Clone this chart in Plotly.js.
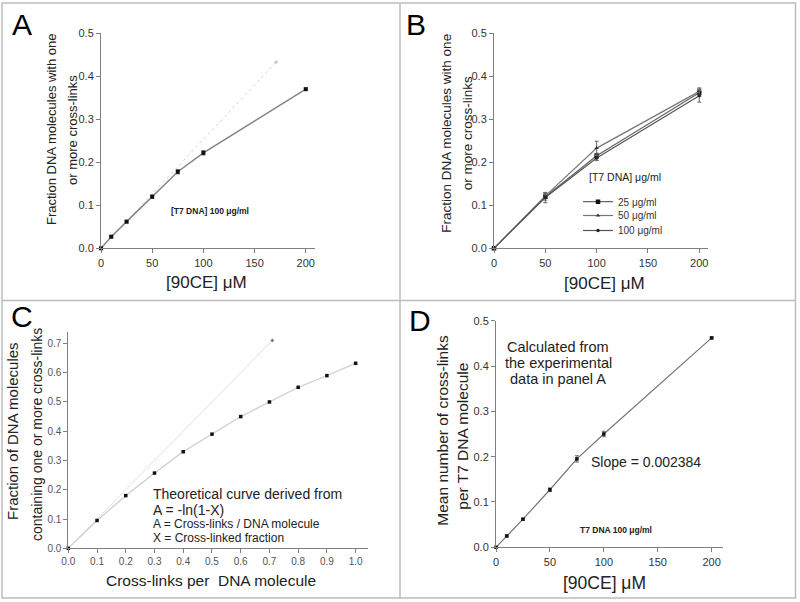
<!DOCTYPE html>
<html><head><meta charset="utf-8">
<script src="https://cdn.plot.ly/plotly-3.0.1.min.js"></script>
<style>html,body{margin:0;padding:0;background:#fff}</style>
</head><body><div id="chart" style="width:800px;height:602px"></div>
<script>
// ---- Panel A ----
const concA = [0, 10, 25, 50, 75, 100, 200];
const fracA = [0, 0.027, 0.062, 0.12, 0.178, 0.222, 0.37];
const errA = [0, 0.003, 0.003, 0.004, 0.005, 0.005, 0.003];
const theoryXA = [0, 171];
const theoryYA = [0, 0.433];

// ---- Panel B ----
const concB = [0, 50, 100, 200];
const fracB25 = [0, 0.12, 0.215, 0.362];
const errB25 = [0, 0.008, 0.006, 0.008];
const fracB50 = [0, 0.122, 0.233, 0.365];
const errB50 = [0, 0.006, 0.016, 0.008];
const fracB100 = [0, 0.118, 0.21, 0.355];
const errB100 = [0, 0.012, 0.006, 0.015];
const namesB = ['25 μg/ml', '50 μg/ml', '100 μg/ml'];

// ---- Panel C ----
const crossC = [0, 0.1, 0.2, 0.3, 0.4, 0.5, 0.6, 0.7, 0.8, 0.9, 1.0];
const fracC = [0, 0.095, 0.18, 0.257, 0.33, 0.39, 0.45, 0.5, 0.55, 0.59, 0.632];
const identXC = [0, 0.71];
const identYC = [0, 0.71];

// ---- Panel D ----
const concD = [0, 10, 25, 50, 75, 100, 200];
const meanD = [0, 0.025, 0.062, 0.127, 0.195, 0.25, 0.462];
const errD = [0, 0.002, 0.002, 0.004, 0.007, 0.006, 0.002];

const W = 800, H = 602;
const FONT = 'Liberation Sans, Arial, sans-serif';
const px = v => v / W;
const py = v => 1 - v / H;

const sq = (size) => ({symbol: 'square', size: size, color: '#111'});
const errStyle = (arr) => ({type: 'data', array: arr, visible: true, color: '#666', thickness: 1, width: 2});

const traces = [
  // A
  {x: theoryXA, y: theoryYA, xaxis: 'x', yaxis: 'y', mode: 'lines+markers', showlegend: false,
   line: {color: '#d4d4d4', width: 1, dash: 'dot'}, marker: {size: [0, 3], color: '#aaa'}, cliponaxis: false},
  {x: concA, y: fracA, error_y: errStyle(errA), xaxis: 'x', yaxis: 'y', mode: 'lines+markers', showlegend: false,
   line: {color: '#858585', width: 1.5}, marker: sq(4), cliponaxis: false},
  // B
  {x: concB, y: fracB25, error_y: errStyle(errB25), xaxis: 'x2', yaxis: 'y2', mode: 'lines+markers', name: namesB[0],
   legend: 'legend', line: {color: '#666', width: 1.2}, marker: sq(4.5), cliponaxis: false},
  {x: concB, y: fracB50, error_y: errStyle(errB50), xaxis: 'x2', yaxis: 'y2', mode: 'lines+markers', name: namesB[1],
   legend: 'legend2', line: {color: '#777', width: 1.2}, marker: {symbol: 'triangle-up', size: 4, color: '#333'}, cliponaxis: false},
  {x: concB, y: fracB100, error_y: errStyle(errB100), xaxis: 'x2', yaxis: 'y2', mode: 'lines+markers', name: namesB[2],
   legend: 'legend3', line: {color: '#555', width: 1.2}, marker: {symbol: 'circle', size: 3.5, color: '#222'}, cliponaxis: false},
  // C
  {x: identXC, y: identYC, xaxis: 'x3', yaxis: 'y3', mode: 'lines+markers', showlegend: false,
   line: {color: '#e0e0e0', width: 1}, marker: {size: [0, 3.5], color: '#222'}, cliponaxis: false},
  {x: crossC, y: fracC, xaxis: 'x3', yaxis: 'y3', mode: 'lines+markers', showlegend: false,
   line: {color: '#d4d4d4', width: 1.5}, marker: sq(3.5), cliponaxis: false},
  // D
  {x: concD, y: meanD, error_y: errStyle(errD), xaxis: 'x4', yaxis: 'y4', mode: 'lines+markers', showlegend: false,
   line: {color: '#757575', width: 1.2}, marker: sq(3.5), cliponaxis: false}
];

function ax(domain, range, extra) {
  return Object.assign({
    domain: domain, range: range, showline: true, linecolor: '#808080', linewidth: 1,
    ticks: 'outside', ticklen: 4, tickwidth: 1, tickcolor: '#808080',
    showgrid: false, zeroline: false, fixedrange: true,
    tickfont: {family: FONT, size: 11, color: '#333'}
  }, extra || {});
}

const yFmt = {dtick: 0.1, tickformat: '.1f'};
const xConc = {dtick: 50};

function ann(text, x, y, size, opts) {
  return Object.assign({
    text: text, x: px(x), y: py(y), xref: 'paper', yref: 'paper', showarrow: false,
    xanchor: 'center', yanchor: 'middle', font: {family: FONT, size: size, color: '#222'}
  }, opts || {});
}

const annotations = [
  // panel letters
  ann('A', 22, 24, 30, {font: {family: FONT, size: 30, color: '#000'}}),
  ann('B', 416, 24, 30, {font: {family: FONT, size: 30, color: '#000'}}),
  ann('C', 22, 317, 30, {font: {family: FONT, size: 30, color: '#000'}}),
  ann('D', 420, 320, 30, {font: {family: FONT, size: 30, color: '#000'}}),
  // A
  ann('Fraction DNA molecules with one', 52, 130, 13, {textangle: -90}),
  ann('or more cross-links', 73, 130, 13, {textangle: -90}),
  ann('[90CE] μM', 207, 282, 17),
  ann('<b>[T7 DNA] 100 μg/ml</b>', 210, 211, 8.5),
  // B
  ann('Fraction DNA molecules with one', 446.7, 133, 13.5, {textangle: -90}),
  ann('or more cross-links', 468.3, 133, 13.5, {textangle: -90}),
  ann('[90CE] μM', 604, 283, 17),
  ann('[T7 DNA] μg/ml', 625, 177.3, 10.5),
  // C
  ann('Fraction of DNA molecules', 12, 431, 15, {textangle: -90}),
  ann('containing one or more cross-links', 37, 435, 14, {textangle: -90}),
  ann('Cross-links per \u00a0DNA molecule', 211, 580, 15.5),
  ann('Theoretical curve derived from', 150.5, 493.5, 14, {xanchor: 'left'}),
  ann('A = -ln(1-X)', 150.5, 510, 14, {xanchor: 'left'}),
  ann('A = Cross-links / DNA molecule', 150.5, 524, 12, {xanchor: 'left'}),
  ann('X = Cross-linked fraction', 150.5, 537.5, 12, {xanchor: 'left'}),
  // D
  ann('Mean number of cross-links', 441.7, 430, 15.5, {textangle: -90}),
  ann('per T7 DNA molecule', 461.7, 436, 15.5, {textangle: -90}),
  ann('[90CE] μM', 604, 583.3, 17.5),
  ann('Calculated from', 558.3, 346.7, 14.5),
  ann('the experimental', 558.3, 362.8, 14.5),
  ann('data in panel A', 558.3, 379.3, 14.5),
  ann('Slope = 0.002384', 589.3, 462.3, 14, {xanchor: 'left'}),
  ann('<b>T7 DNA 100 μg/ml</b>', 616, 530, 8.5)
];

const lineCol = '#bcbcbc';
const shapes = [
  {type: 'rect', xref: 'paper', yref: 'paper', x0: px(2), x1: px(795.5), y0: py(598), y1: py(3), line: {color: lineCol, width: 1.5}},
  {type: 'line', xref: 'paper', yref: 'paper', x0: px(400), x1: px(400), y0: py(598), y1: py(3), line: {color: lineCol, width: 1.5}},
  {type: 'line', xref: 'paper', yref: 'paper', x0: px(2), x1: px(795.5), y0: py(300.5), y1: py(300.5), line: {color: lineCol, width: 1.5}}
];

function leg(yPix) {
  return {x: px(578), y: py(yPix), xanchor: 'left', yanchor: 'middle', bgcolor: 'rgba(0,0,0,0)',
          borderwidth: 0, font: {family: FONT, size: 10, color: '#333'}, itemwidth: 30};
}

const layout = {
  width: W, height: H, margin: {l: 0, r: 0, t: 0, b: 0},
  paper_bgcolor: '#fff', plot_bgcolor: '#fff',
  font: {family: FONT, color: '#333'},
  xaxis: ax([px(101), px(315)], [0, 209], Object.assign({anchor: 'y'}, xConc)),
  yaxis: ax([py(248.3), py(33.3)], [0, 0.5], Object.assign({anchor: 'x'}, yFmt)),
  xaxis2: ax([px(494), px(708.3)], [0, 208.8], Object.assign({anchor: 'y2'}, xConc)),
  yaxis2: ax([py(248.3), py(33.3)], [0, 0.5], Object.assign({anchor: 'x2'}, yFmt)),
  xaxis3: ax([px(68.3), px(368)], [0, 1.043], {anchor: 'y3', dtick: 0.1, tickformat: '.1f',
          tickfont: {family: FONT, size: 10, color: '#555'}}),
  yaxis3: ax([py(548.3), py(331.7)], [0, 0.74], {anchor: 'x3', dtick: 0.1, tickformat: '.1f',
          tickfont: {family: FONT, size: 10, color: '#555'}}),
  xaxis4: ax([px(496), px(723.3)], [0, 210.8], Object.assign({anchor: 'y4'}, xConc)),
  yaxis4: ax([py(547.3), py(320.7)], [0, 0.5], Object.assign({anchor: 'x4'}, yFmt)),
  legend: leg(201.7),
  legend2: leg(215.5),
  legend3: leg(230.5),
  annotations: annotations,
  shapes: shapes
};

Plotly.newPlot('chart', traces, layout, {displayModeBar: false, staticPlot: true});
</script>
</body></html>
